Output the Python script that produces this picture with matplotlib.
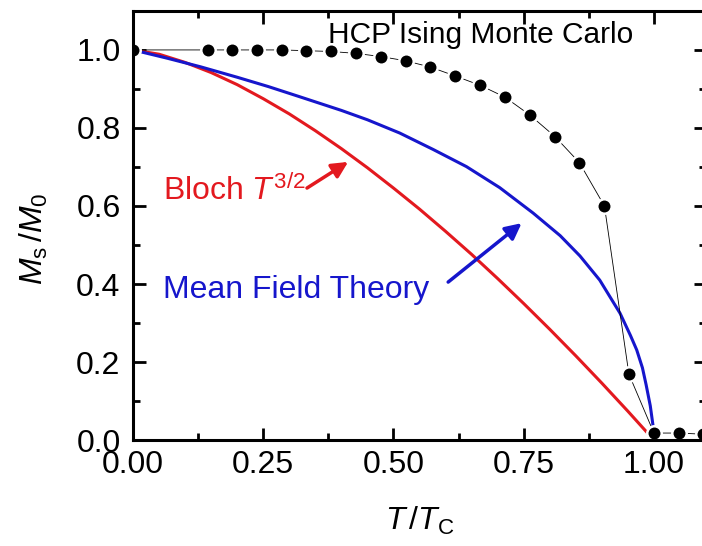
import matplotlib
matplotlib.use("Agg")
import matplotlib.pyplot as plt
from matplotlib.ticker import MultipleLocator

plt.rcParams['font.family'] = ['Liberation Sans', 'DejaVu Sans']
plt.rcParams['mathtext.fontset'] = 'custom'
plt.rcParams['mathtext.rm'] = 'Liberation Sans'
plt.rcParams['mathtext.it'] = 'Liberation Sans:italic'
plt.rcParams['mathtext.bf'] = 'Liberation Sans:bold'

# Monte Carlo magnetisation of the HCP Ising model
mc_t = [0.000, 0.143, 0.190, 0.238, 0.286, 0.333, 0.381, 0.429, 0.476, 0.524,
        0.571, 0.619, 0.667, 0.714, 0.762, 0.810, 0.857, 0.905, 0.952, 1.000,
        1.048, 1.095]
mc_m = [1.000, 1.000, 1.000, 1.000, 1.000, 0.998, 0.996, 0.991, 0.983, 0.972,
        0.956, 0.933, 0.909, 0.879, 0.833, 0.778, 0.711, 0.600, 0.169, 0.018,
        0.018, 0.015]

# Bloch T^(3/2) law
bloch_t = [0.00, 0.05, 0.10, 0.15, 0.20, 0.25, 0.30, 0.35, 0.40, 0.45, 0.50,
           0.55, 0.60, 0.65, 0.70, 0.75, 0.80, 0.85, 0.90, 0.95, 1.00]
bloch_m = [1.000, 0.989, 0.968, 0.942, 0.911, 0.875, 0.836, 0.793, 0.747, 0.698,
           0.646, 0.592, 0.535, 0.476, 0.414, 0.350, 0.284, 0.216, 0.146, 0.074,
           0.000]

# Mean field theory
mf_t = [0.000, 0.065, 0.129, 0.200, 0.260, 0.320, 0.400, 0.450, 0.512, 0.576,
        0.640, 0.704, 0.768, 0.820, 0.858, 0.896, 0.935, 0.955, 0.967, 0.978,
        0.985, 0.993, 0.998, 1.000]
mf_m = [1.000, 0.979, 0.957, 0.930, 0.906, 0.880, 0.845, 0.821, 0.787, 0.745,
        0.701, 0.647, 0.582, 0.524, 0.472, 0.410, 0.325, 0.268, 0.231, 0.185,
        0.142, 0.088, 0.040, 0.000]

x_ticks = [0.00, 0.25, 0.50, 0.75, 1.00]
x_tick_labels = ['0.00', '0.25', '0.50', '0.75', '1.00']
y_ticks = [0.0, 0.2, 0.4, 0.6, 0.8, 1.0]
y_tick_labels = ['0.0', '0.2', '0.4', '0.6', '0.8', '1.0']

RED = '#e3191f'
BLUE = '#1616cc'

fig = plt.figure(figsize=(7.02, 5.46), dpi=100)
ax = fig.add_axes([0.1895, 0.194, 0.8162, 0.786])

ax.plot(bloch_t, bloch_m, color=RED, lw=2.2, zorder=2)
ax.plot(mf_t, mf_m, color=BLUE, lw=2.2, zorder=2)
ax.plot(mc_t, mc_m, color='black', lw=0.6, marker='o', ms=10.4,
        mfc='black', mec='white', mew=1.8, zorder=2.2)

ax.set_xlim(0, 1.1)
ax.set_ylim(0, 1.1)
ax.set_xticks(x_ticks)
ax.set_xticklabels(x_tick_labels)
ax.set_yticks(y_ticks)
ax.set_yticklabels(y_tick_labels)
ax.xaxis.set_minor_locator(MultipleLocator(0.125))
ax.yaxis.set_minor_locator(MultipleLocator(0.1))
ax.tick_params(which='both', direction='in', top=True, right=True,
               width=2, labelsize=23)
ax.tick_params(which='major', length=9)
ax.tick_params(which='minor', length=5)
ax.tick_params(axis='x', pad=7)
ax.tick_params(axis='y', pad=9)
for s in ax.spines.values():
    s.set_linewidth(2.2)

ax.set_xlabel(r'$\mathit{T}\,/\mathit{T}_{\mathrm{C}}$', fontsize=23)
ax.xaxis.set_label_coords(0.5, -0.152)
ax.set_ylabel(r'$\mathit{M}_{\mathrm{s}}\,/\mathit{M}_{0}$', fontsize=23)
ax.yaxis.set_label_coords(-0.145, 0.47)

ax.text(0.374, 1.018, 'HCP Ising Monte Carlo', fontsize=21.5, color='black',
        ha='left', va='baseline')
ax.text(0.058, 0.615, r'Bloch $\mathit{T}^{3/2}$', fontsize=23, color=RED,
        ha='left', va='baseline')
ax.text(0.058, 0.364, 'Mean Field Theory', fontsize=23, color=BLUE,
        ha='left', va='baseline')

ax.annotate('', xy=(0.413, 0.713), xytext=(0.334, 0.646),
            arrowprops=dict(arrowstyle='-|>', color=RED, lw=2.5,
                            mutation_scale=24, shrinkA=0, shrinkB=0))
ax.annotate('', xy=(0.746, 0.556), xytext=(0.605, 0.405),
            arrowprops=dict(arrowstyle='-|>', color=BLUE, lw=2.5,
                            mutation_scale=24, shrinkA=0, shrinkB=0))

fig.savefig('out.png', dpi=100)
